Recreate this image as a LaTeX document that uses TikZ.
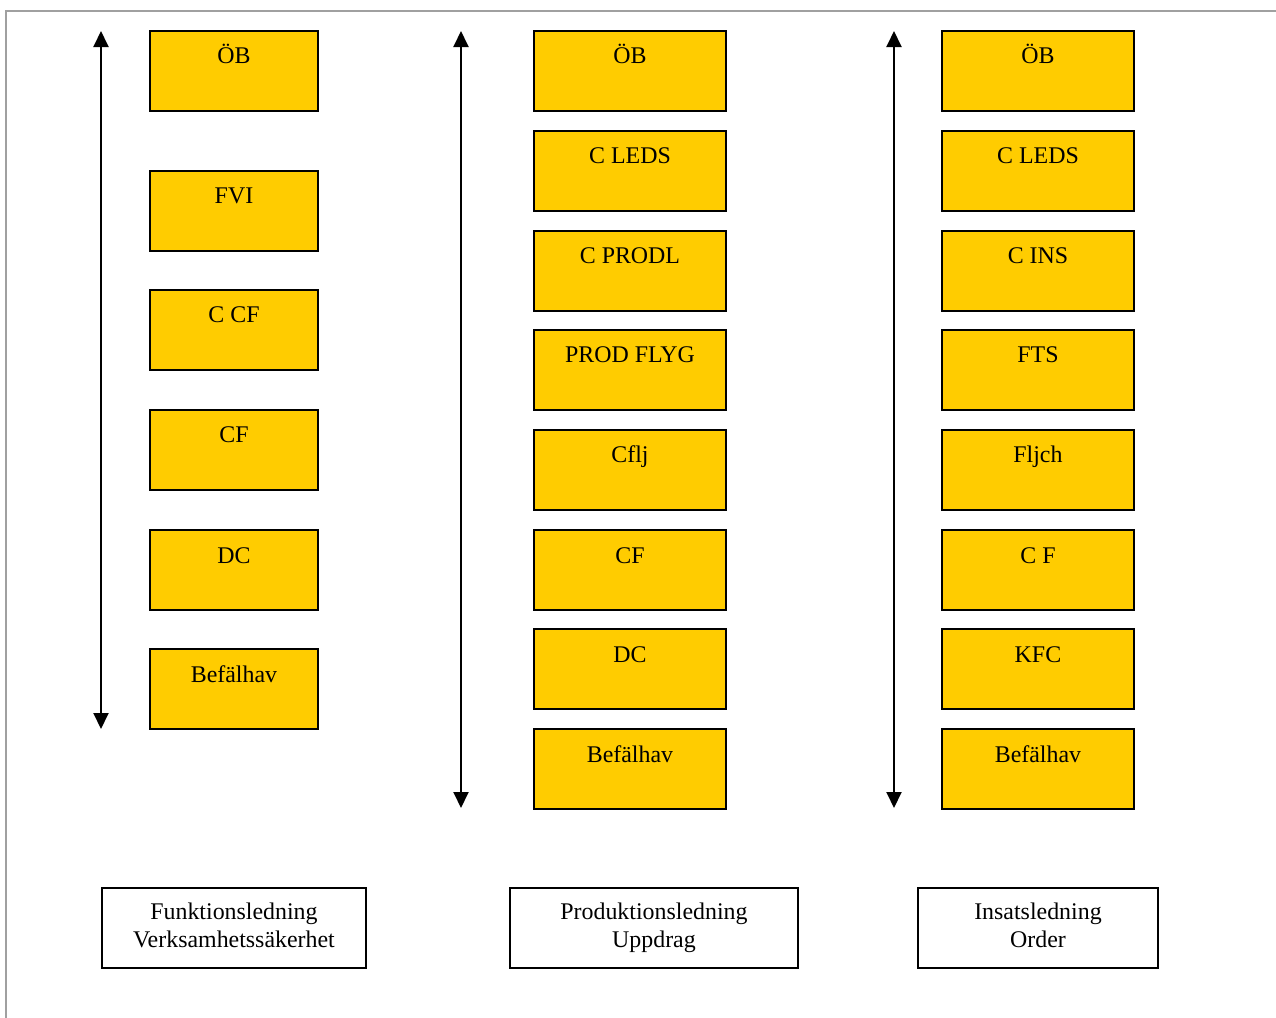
\documentclass[tikz,border=0pt]{standalone}
\usepackage{fontspec}
\setmainfont{Liberation Serif}
\usetikzlibrary{arrows.meta}
\definecolor{boxgold}{HTML}{FFCC00}
\definecolor{framegray}{HTML}{A0A0A0}
\tikzset{
  rank/.style={draw, line width=1.1pt, fill=boxgold, anchor=north west, minimum height=1.6cm,
    inner sep=0pt, outer sep=0pt, label={[anchor=base, yshift=-0.66cm, inner sep=0pt]north:#1}},
  narrow/.style={minimum width=3.36cm},
  wide/.style={minimum width=3.84cm},
  lead/.style={draw, line width=1.1pt, fill=white, anchor=north west, minimum height=1.6cm,
    align=center, inner sep=0pt, outer sep=0pt},
  span/.style={line width=1.1pt, {Triangle[width=0.3cm,length=0.32cm]}-{Triangle[width=0.3cm,length=0.32cm]}}
}
\begin{document}
\begin{tikzpicture}[x=0.02cm,y=-0.02cm,font=\fontsize{13.6}{15.9}\selectfont]
\useasboundingbox (0,0) rectangle (1276,1018);
\draw[framegray, line width=1.2pt] (6,1018) -- (6,11) -- (1276,11);
% funktionsledning
\node[rank=ÖB, narrow] (f1) at (150,31) {};
\node[rank=FVI, narrow] (f2) at (150,171) {};
\node[rank=C CF, narrow] (f3) at (150,290) {};
\node[rank=CF, narrow] (f4) at (150,410) {};
\node[rank=DC, narrow] (f5) at (150,530) {};
\node[rank=Befälhav, narrow] (f6) at (150,649) {};
\coordinate (ftop) at (101,31); \coordinate (fbot) at (101,729);
\draw[span] (ftop) -- (fbot);
% produktionsledning
\node[rank=ÖB, wide] (p1) at (534,31) {};
\node[rank=C LEDS, wide] (p2) at (534,131) {};
\node[rank=C PRODL, wide] (p3) at (534,231) {};
\node[rank=PROD FLYG, wide] (p4) at (534,330) {};
\node[rank=Cflj, wide] (p5) at (534,430) {};
\node[rank=CF, wide] (p6) at (534,530) {};
\node[rank=DC, wide] (p7) at (534,629) {};
\node[rank=Befälhav, wide] (p8) at (534,729) {};
\coordinate (ptop) at (461,31); \coordinate (pbot) at (461,808);
\draw[span] (ptop) -- (pbot);
% insatsledning
\node[rank=ÖB, wide] (i1) at (942,31) {};
\node[rank=C LEDS, wide] (i2) at (942,131) {};
\node[rank=C INS, wide] (i3) at (942,231) {};
\node[rank=FTS, wide] (i4) at (942,330) {};
\node[rank=Fljch, wide] (i5) at (942,430) {};
\node[rank=C F, wide] (i6) at (942,530) {};
\node[rank=KFC, wide] (i7) at (942,629) {};
\node[rank=Befälhav, wide] (i8) at (942,729) {};
\coordinate (itop) at (894,31); \coordinate (ibot) at (894,808);
\draw[span] (itop) -- (ibot);
% ledningsformer
\node[lead, minimum width=5.28cm] (fl) at (102,888) {\strut Funktionsledning\\\strut Verksamhetssäkerhet};
\node[lead, minimum width=5.76cm] (pl) at (510,888) {\strut Produktionsledning\\\strut Uppdrag};
\node[lead, minimum width=4.8cm] (il) at (918,888) {\strut Insatsledning\\\strut Order};
\end{tikzpicture}
\end{document}
